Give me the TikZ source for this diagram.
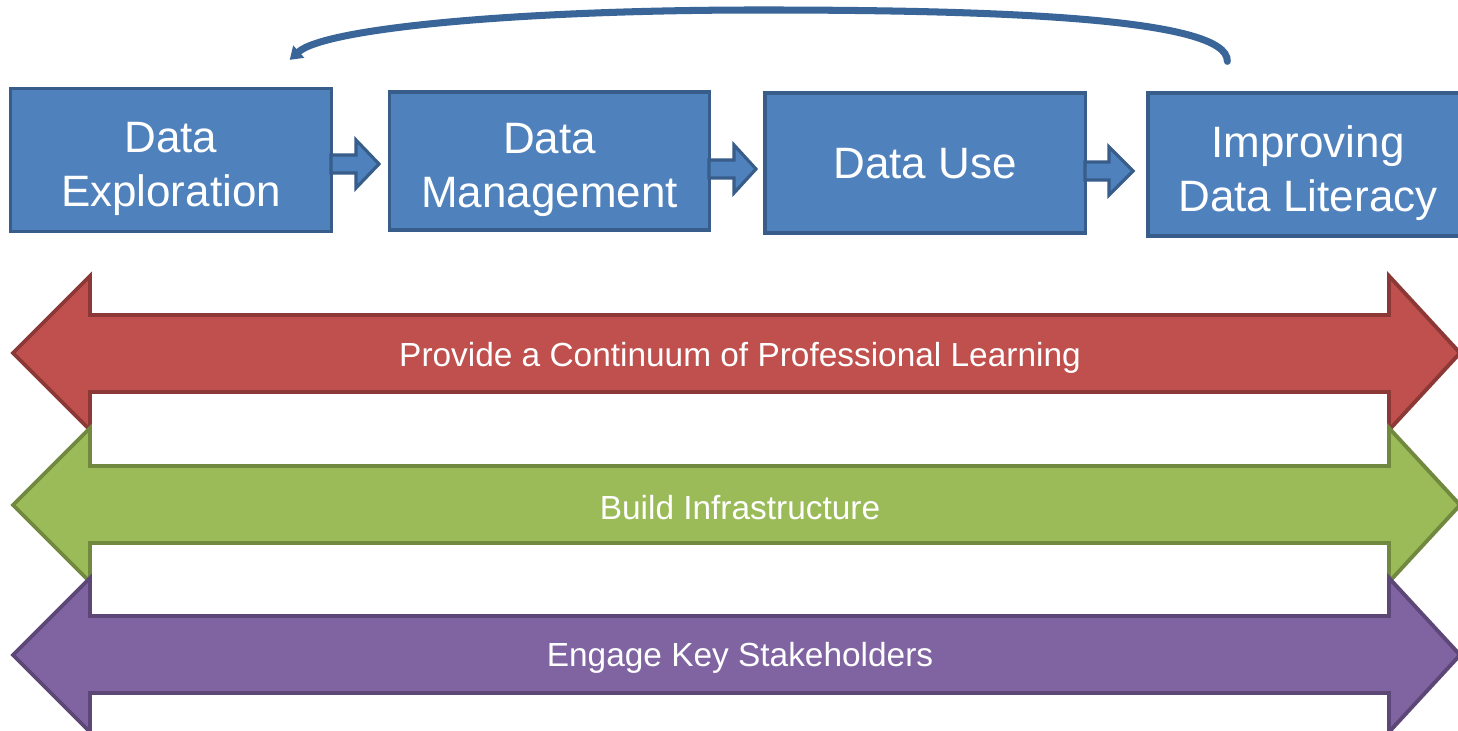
\documentclass[tikz,border=0pt]{standalone}
\usepackage{fontspec}
\setmainfont{Liberation Sans}
\usetikzlibrary{arrows.meta,calc}
\definecolor{boxfill}{HTML}{4F81BD}
\definecolor{boxline}{HTML}{385D8A}
\definecolor{arcline}{HTML}{3A6598}
\definecolor{redfill}{HTML}{C0504D}
\definecolor{redline}{HTML}{8C3836}
\definecolor{greenfill}{HTML}{9BBB59}
\definecolor{greenline}{HTML}{71893F}
\definecolor{purplefill}{HTML}{8064A2}
\definecolor{purpleline}{HTML}{5C4776}
\tikzset{
  box/.style={draw=boxline, fill=boxfill, line width=0.9pt, inner sep=0pt},
  boxtext/.style={text=white, align=center, font=\fontsize{12.5}{15.4}\selectfont, inner sep=0pt},
  smallarr/.style={draw=boxline, fill=boxfill, line width=0.9pt, line join=miter},
  bigarr/.style={line width=1.1pt, line join=miter},
  bandtext/.style={text=white, font=\fontsize{9.5}{11}\selectfont, inner sep=0pt},
  loopline/.style={draw=arcline, line width=2pt, line cap=round,
    -{Triangle[length=3.5pt,width=4.5pt]}}
}
\begin{document}
\begin{tikzpicture}[x=0.01cm, y=-0.01cm]
\clip (0,0) rectangle (1458,731);
\fill[white] (0,0) rectangle (1458,731);

% big double arrows
\draw[bigarr, draw=redline, fill=redfill]
  (13,353) -- (90,276) -- (90,315) -- (1389,315) -- (1389,276) -- (1460,353)
  -- (1389,430) -- (1389,392) -- (90,392) -- (90,430) -- cycle;
\node[bandtext] (t1) at (740,358) {Provide a Continuum of Professional Learning};

\draw[bigarr, draw=greenline, fill=greenfill]
  (13,505) -- (90,428) -- (90,466) -- (1389,466) -- (1389,428) -- (1460,505)
  -- (1389,582) -- (1389,543) -- (90,543) -- (90,582) -- cycle;
\node[bandtext] (t2) at (740,508) {Build Infrastructure};

\draw[bigarr, draw=purpleline, fill=purplefill]
  (13,655) -- (90,578) -- (90,616) -- (1389,616) -- (1389,578) -- (1460,655)
  -- (1389,732) -- (1389,693) -- (90,693) -- (90,732) -- cycle;
\node[bandtext] (t3) at (740,658) {Engage Key Stakeholders};

% boxes
\node[box, minimum width=3.20cm, minimum height=1.43cm] (b1) at (171,160) {};
\node[boxtext] (l1) at ($(b1.center)+(0,9)$) {Data\\Exploration};
\node[box, minimum width=3.19cm, minimum height=1.38cm] (b2) at (549.5,161) {};
\node[boxtext] (l2) at ($(b2.center)+(0,9)$) {Data\\Management};
\node[box, minimum width=3.20cm, minimum height=1.40cm] (b3) at (925,163) {};
\node[boxtext] (l3) at ($(b3.center)+(0,1)$) {Data Use};
\node[box, minimum width=3.20cm, minimum height=1.43cm] (b4) at (1308,164.5) {};
\node[boxtext] (l4) at ($(b4.center)+(0,9)$) {Improving\\Data Literacy};

% small block arrows between boxes
\draw[smallarr] (331,155) -- (356,155) -- (356,140) -- (379,164) -- (356,188) -- (356,173) -- (331,173) -- cycle;
\draw[smallarr] (709,160) -- (734,160) -- (734,145) -- (756,169) -- (734,193) -- (734,178) -- (709,178) -- cycle;
\draw[smallarr] (1085,162) -- (1109,162) -- (1109,147) -- (1133,171) -- (1109,195) -- (1109,180) -- (1085,180) -- cycle;

% loop back arc
\coordinate (arcR) at ($(b4.north west)+(81,-30)$);
\coordinate (arcL) at ($(b1.north east)+(-43,-27)$);
\draw[loopline] (arcR) .. controls (1229,18) and (1000,10) .. (760,10)
  .. controls (520,10) and (325,28) .. (arcL);
\end{tikzpicture}
\end{document}
